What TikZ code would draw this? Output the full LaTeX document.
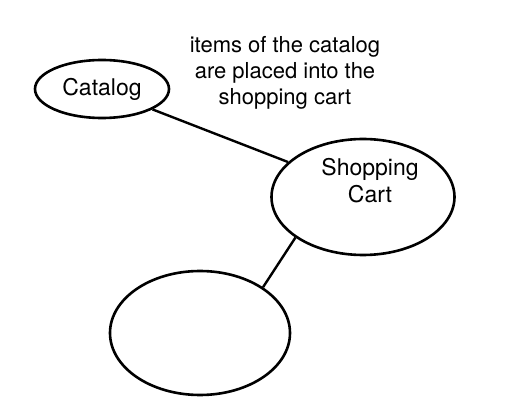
\documentclass[tikz,border=0pt]{standalone}
\usepackage{fontspec}
\setmainfont{TeX Gyre Heros}
\usetikzlibrary{shapes}
\usetikzlibrary{shapes.geometric}
\usetikzlibrary{positioning}

\tikzset{
  bubble/.style={draw, ellipse, line width=2.6pt, inner sep=0pt, align=center,
    font=\fontsize{23}{27}\selectfont},
  link/.style={line width=2.4pt}
}

\begin{document}
\begin{tikzpicture}[x=1pt,y=-1pt]
  \useasboundingbox (0,0) rectangle (525,403);
  % the three bubbles
  \node[bubble, minimum width=134pt, minimum height=58pt] (catalog) at (102,89) {Catalog};
  \node[bubble, minimum width=183pt, minimum height=116pt,
    label={[align=center, xshift=7pt, yshift=16pt, font=\fontsize{23}{27}\selectfont]center:Shopping\\ Cart}]
    (cart) at (363,197) {};
  \node[bubble, minimum width=180pt, minimum height=124pt] (empty) at (200,333) {};
  % the note above
  \node[align=center, font=\fontsize{22}{26}\selectfont] (note) at (285,73)
    {items of the catalog\\ are placed into the\\ shopping cart};
  % connectors
  \draw[link] (catalog.338) -- (cart.155);
  \draw[link] (cart.211) -- (empty.36);
\end{tikzpicture}
\end{document}
